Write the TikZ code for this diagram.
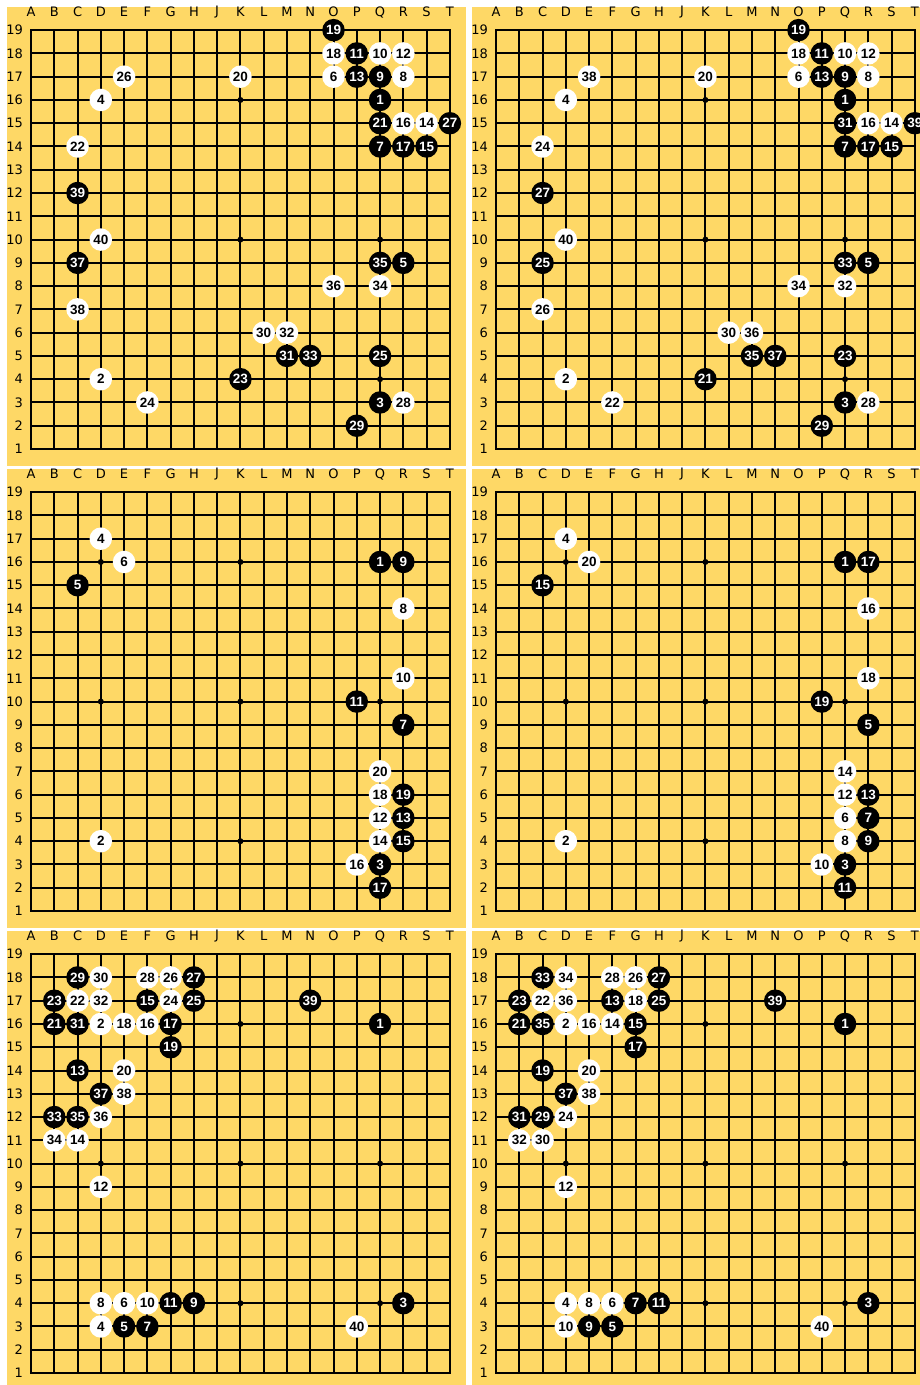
\documentclass[tikz,border=0pt]{standalone}
\usepackage{fontspec}
\setmainfont{DejaVu Sans}
\newfontfamily\stonefont{Liberation Sans}
\definecolor{boardyellow}{RGB}{254,216,102}

% one board: background, lines, star points, coordinates
\newcommand{\drawgrid}[1]{%
  \fill[boardyellow] (-0.03,0.27) rectangle (19.69,19.99);
  \foreach \k in {2,...,18} {
    \draw[gridline] (\k,1) -- (\k,19);
    \draw[gridline] (1,\k) -- (19,\k);
  }
  \draw[gridline] (1,1) rectangle (19,19);
  \foreach \hx in {4,10,16}
    \foreach \hy in {4,10,16}
      \fill (\hx,\hy) circle (3pt);
  \foreach \l [count=\i] in {A,B,C,D,E,F,G,H,J,K,L,M,N,O,P,Q,R,S,T}
    \node[collabel] (#1col\i) at (\i,19.77) {\l};
  \foreach \r in {1,...,19}
    \node[rowlabel] (#1row\r) at (0.66,\r) {\r};
}
% odd moves are black, even moves white
\newcommand{\putstone}[4]{%
  \ifodd#2\relax
    \node[bstone] (#1m#2) at (#3,#4) {#2};
  \else
    \node[wstone] (#1m#2) at (#3,#4) {#2};
  \fi
}

\begin{document}
\begin{tikzpicture}[
  x=1pt, y=-1pt,
  panel/.style 2 args={shift={(#1,#2)}, x=23.27pt, y=23.27pt, shift={(-1,-1)}},
  gridline/.style={line width=2pt},
  collabel/.style={font=\fontsize{13}{13}\selectfont, inner sep=0pt},
  rowlabel/.style={font=\fontsize{13}{13}\selectfont, inner sep=0pt, anchor=east},
  stone/.style={circle, minimum size=22.5pt, inner sep=0pt, font=\stonefont\bfseries\fontsize{13.5}{13.5}\selectfont},
  bstone/.style={stone, fill=black, text=white},
  wstone/.style={stone, fill=white, text=black}
]
\clip (0,0) rectangle (920,1385);
\fill[white] (0,0) rectangle (920,1385);

% top left
\begin{scope}[panel={31}{449}]
\drawgrid{a}
\foreach \n/\c/\r in {1/16/16, 2/4/4, 3/16/3, 4/4/16, 5/17/9, 6/14/17, 7/16/14, 8/17/17,
  9/16/17, 10/16/18, 11/15/18, 12/17/18, 13/15/17, 14/18/15, 15/18/14, 16/17/15,
  17/17/14, 18/14/18, 19/14/19, 20/10/17, 21/16/15, 22/3/14, 23/10/4, 24/6/3,
  25/16/5, 26/5/17, 27/19/15, 28/17/3, 29/15/2, 30/11/6, 31/12/5, 32/12/6,
  33/13/5, 34/16/8, 35/16/9, 36/14/8, 37/3/9, 38/3/7, 39/3/12, 40/4/10}
  {\putstone{a}{\n}{\c}{\r}}
\end{scope}

% top right
\begin{scope}[panel={496}{449}]
\drawgrid{b}
\foreach \n/\c/\r in {1/16/16, 2/4/4, 3/16/3, 4/4/16, 5/17/9, 6/14/17, 7/16/14, 8/17/17,
  9/16/17, 10/16/18, 11/15/18, 12/17/18, 13/15/17, 14/18/15, 15/18/14, 16/17/15,
  17/17/14, 18/14/18, 19/14/19, 20/10/17, 21/10/4, 22/6/3, 23/16/5, 24/3/14,
  25/3/9, 26/3/7, 27/3/12, 28/17/3, 29/15/2, 30/11/6, 31/16/15, 32/16/8,
  33/16/9, 34/14/8, 35/12/5, 36/12/6, 37/13/5, 38/5/17, 39/19/15, 40/4/10}
  {\putstone{b}{\n}{\c}{\r}}
\end{scope}

% middle left
\begin{scope}[panel={31}{911}]
\drawgrid{c}
\foreach \n/\c/\r in {1/16/16, 2/4/4, 3/16/3, 4/4/17, 5/3/15, 6/5/16, 7/17/9, 8/17/14,
  9/17/16, 10/17/11, 11/15/10, 12/16/5, 13/17/5, 14/16/4, 15/17/4, 16/15/3,
  17/16/2, 18/16/6, 19/17/6, 20/16/7}
  {\putstone{c}{\n}{\c}{\r}}
\end{scope}

% middle right
\begin{scope}[panel={496}{911}]
\drawgrid{d}
\foreach \n/\c/\r in {1/16/16, 2/4/4, 3/16/3, 4/4/17, 5/17/9, 6/16/5, 7/17/5, 8/16/4,
  9/17/4, 10/15/3, 11/16/2, 12/16/6, 13/17/6, 14/16/7, 15/3/15, 16/17/14,
  17/17/16, 18/17/11, 19/15/10, 20/5/16}
  {\putstone{d}{\n}{\c}{\r}}
\end{scope}

% bottom left
\begin{scope}[panel={31}{1373}]
\drawgrid{e}
\foreach \n/\c/\r in {1/16/16, 2/4/16, 3/17/4, 4/4/3, 5/5/3, 6/5/4, 7/6/3, 8/4/4,
  9/8/4, 10/6/4, 11/7/4, 12/4/9, 13/3/14, 14/3/11, 15/6/17, 16/6/16,
  17/7/16, 18/5/16, 19/7/15, 20/5/14, 21/2/16, 22/3/17, 23/2/17, 24/7/17,
  25/8/17, 26/7/18, 27/8/18, 28/6/18, 29/3/18, 30/4/18, 31/3/16, 32/4/17,
  33/2/12, 34/2/11, 35/3/12, 36/4/12, 37/4/13, 38/5/13, 39/13/17, 40/15/3}
  {\putstone{e}{\n}{\c}{\r}}
\end{scope}

% bottom right
\begin{scope}[panel={496}{1373}]
\drawgrid{f}
\foreach \n/\c/\r in {1/16/16, 2/4/16, 3/17/4, 4/4/4, 5/6/3, 6/6/4, 7/7/4, 8/5/4,
  9/5/3, 10/4/3, 11/8/4, 12/4/9, 13/6/17, 14/6/16, 15/7/16, 16/5/16,
  17/7/15, 18/7/17, 19/3/14, 20/5/14, 21/2/16, 22/3/17, 23/2/17, 24/4/12,
  25/8/17, 26/7/18, 27/8/18, 28/6/18, 29/3/12, 30/3/11, 31/2/12, 32/2/11,
  33/3/18, 34/4/18, 35/3/16, 36/4/17, 37/4/13, 38/5/13, 39/13/17, 40/15/3}
  {\putstone{f}{\n}{\c}{\r}}
\end{scope}
\end{tikzpicture}
\end{document}
